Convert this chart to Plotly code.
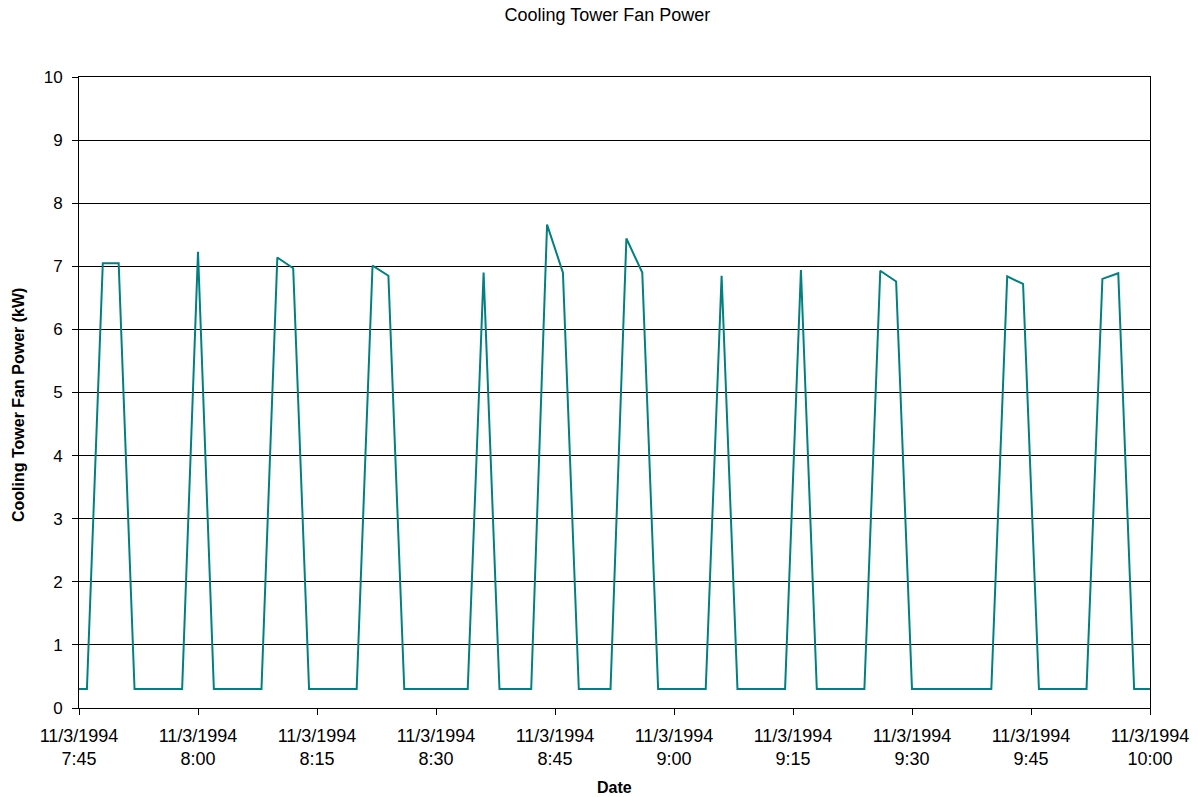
import plotly.graph_objects as go
import pandas as pd

# Timestamps (11/3/1994), every 2 minutes
times = [
    "07:44", "07:46", "07:48", "07:50", "07:52", "07:54", "07:56", "07:58",
    "08:00", "08:02", "08:04", "08:06", "08:08", "08:10", "08:12", "08:14",
    "08:16", "08:18", "08:20", "08:22", "08:24", "08:26", "08:28", "08:30",
    "08:32", "08:34", "08:36", "08:38", "08:40", "08:42", "08:44", "08:46",
    "08:48", "08:50", "08:52", "08:54", "08:56", "08:58", "09:00", "09:02",
    "09:04", "09:06", "09:08", "09:10", "09:12", "09:14", "09:16", "09:18",
    "09:20", "09:22", "09:24", "09:26", "09:28", "09:30", "09:32", "09:34",
    "09:36", "09:38", "09:40", "09:42", "09:44", "09:46", "09:48", "09:50",
    "09:52", "09:54", "09:56", "09:58", "10:00",
]

# Cooling tower fan power (kW)
fan_power = [
    0.3, 0.3, 7.05, 7.05, 0.3, 0.3, 0.3, 0.3,
    7.23, 0.3, 0.3, 0.3, 0.3, 7.14, 6.97, 0.3,
    0.3, 0.3, 0.3, 7.01, 6.85, 0.3, 0.3, 0.3,
    0.3, 0.3, 6.9, 0.3, 0.3, 0.3, 7.66, 6.9,
    0.3, 0.3, 0.3, 7.44, 6.9, 0.3, 0.3, 0.3,
    0.3, 6.85, 0.3, 0.3, 0.3, 0.3, 6.94, 0.3,
    0.3, 0.3, 0.3, 6.93, 6.76, 0.3, 0.3, 0.3,
    0.3, 0.3, 0.3, 6.84, 6.72, 0.3, 0.3, 0.3,
    0.3, 6.8, 6.89, 0.3, 0.3,
]

tick_times = ["07:45", "08:00", "08:15", "08:30", "08:45", "09:00",
              "09:15", "09:30", "09:45", "10:00"]
tick_labels = ["11/3/1994<br>7:45", "11/3/1994<br>8:00", "11/3/1994<br>8:15",
               "11/3/1994<br>8:30", "11/3/1994<br>8:45", "11/3/1994<br>9:00",
               "11/3/1994<br>9:15", "11/3/1994<br>9:30", "11/3/1994<br>9:45",
               "11/3/1994<br>10:00"]

date = "1994-11-03 "
x = pd.to_datetime([date + t for t in times])
tickvals = pd.to_datetime([date + t for t in tick_times])

FONT = "Liberation Sans, Arial, sans-serif"

fig = go.Figure()
fig.add_trace(go.Scatter(
    x=x, y=fan_power, mode="lines",
    line=dict(color="#008080", width=2),
    showlegend=False,
))

fig.update_layout(
    width=1198, height=797,
    margin=dict(l=79, r=48, t=77, b=89, autoexpand=False),
    paper_bgcolor="white", plot_bgcolor="white",
    font=dict(family=FONT, size=17, color="black"),
    title=dict(text="Cooling Tower Fan Power", x=0.507, xanchor="center",
               y=0.982, yanchor="middle", font=dict(size=18)),
    xaxis=dict(
        range=[tickvals[0], tickvals[-1]],
        tickvals=tickvals, ticktext=tick_labels,
        ticks="outside", ticklen=6, tickcolor="black",
        showline=True, linecolor="black", linewidth=1, mirror=True,
        showgrid=False, zeroline=False, automargin=False,
        tickfont=dict(size=18), ticklabelstandoff=5,
    ),
    yaxis=dict(
        range=[0, 10], dtick=1,
        ticks="outside", ticklen=6, tickcolor="black",
        showline=True, linecolor="black", linewidth=1, mirror=True,
        showgrid=True, gridcolor="black", gridwidth=1, zeroline=False,
        automargin=False,
        tickfont=dict(size=17), ticklabelstandoff=6,
    ),
    annotations=[
        dict(text="<b>Cooling Tower Fan Power (kW)</b>", xref="paper", yref="paper",
             x=(18 - 79) / 1071, y=(708 - 405) / 631, textangle=-90,
             xanchor="center", yanchor="middle", showarrow=False,
             font=dict(size=16)),
        dict(text="<b>Date</b>", xref="paper", yref="paper",
             x=0.5, y=(708 - 787) / 631, xanchor="center", yanchor="middle",
             showarrow=False, font=dict(size=16)),
    ],
)

fig.write_html("out.html")
